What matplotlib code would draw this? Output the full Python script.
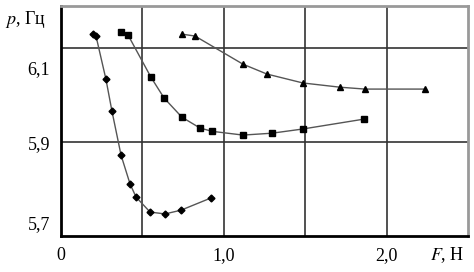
import matplotlib
matplotlib.use('Agg')
import matplotlib.pyplot as plt
import matplotlib.transforms as mtransforms

# F, N  and  p, Hz
F_diam = [0.197, 0.215, 0.276, 0.313, 0.369, 0.424, 0.461, 0.547, 0.639, 0.737, 0.921]
p_diam = [6.130, 6.126, 6.034, 5.966, 5.872, 5.811, 5.783, 5.751, 5.747, 5.755, 5.781]

F_sq = [0.369, 0.412, 0.553, 0.633, 0.743, 0.854, 0.928, 1.118, 1.296, 1.486, 1.861]
p_sq = [6.134, 6.128, 6.038, 5.994, 5.953, 5.930, 5.923, 5.915, 5.919, 5.928, 5.949]

F_tri = [0.743, 0.823, 1.118, 1.265, 1.486, 1.714, 1.867, 2.236]
p_tri = [6.130, 6.126, 6.066, 6.045, 6.026, 6.017, 6.013, 6.013]

xticks = [0, 1.0, 2.0]
xticklabels = ['0', '1,0', '2,0']
yticks = [6.1, 5.9, 5.7]
yticklabels = ['6,1', '5,9', '5,7']

plt.rcParams['font.family'] = ['Liberation Serif', 'DejaVu Serif']
plt.rcParams['mathtext.fontset'] = 'stix'

fig = plt.figure(figsize=(4.74, 2.72), dpi=100)
ax = fig.add_axes([61/474., 1-236/272., 407/474., 230/272.])

lc = '#555555'
ax.plot(F_diam, p_diam, color=lc, lw=1.0, marker='D', ms=3.5, mfc='black', mec='black')
ax.plot(F_sq, p_sq, color=lc, lw=1.0, marker='s', ms=4.5, mfc='black', mec='black')
ax.plot(F_tri, p_tri, color=lc, lw=1.0, marker='^', ms=5, mfc='black', mec='black')

ax.set_xlim(0, 2.5)
ax.set_ylim(5.7, 6.19)

for x in [0.5, 1.0, 1.5, 2.0]:
	ax.axvline(x, color='#333333', lw=1.2, zorder=0)
for y in [6.1, 5.9]:
	ax.axhline(y, color='#333333', lw=1.2, zorder=0)

ax.set_xticks(xticks)
ax.set_xticklabels(xticklabels, fontsize=13)
ax.set_yticks(yticks)
ax.set_yticklabels(yticklabels, fontsize=13)
ax.tick_params(length=0, pad=8)

# label offsets as in the scanned figure
offs = [-0.19, 0.0, 0.13]
for lab, d in zip(ax.get_yticklabels(), offs):
	lab.set_transform(lab.get_transform() + mtransforms.ScaledTranslation(0, d, fig.dpi_scale_trans))

for s in ['left', 'bottom']:
	ax.spines[s].set_color('black')
	ax.spines[s].set_linewidth(2.0)
for s in ['top', 'right']:
	ax.spines[s].set_color('#999999')
	ax.spines[s].set_linewidth(2.0)

fig.text(5/474., 1-20/272., '$p$, Гц', fontsize=13, va='center', ha='left')
fig.text(447/474., 1-255/272., '$F$, Н', fontsize=13, va='center', ha='center')

fig.savefig('out.png', dpi=100)
